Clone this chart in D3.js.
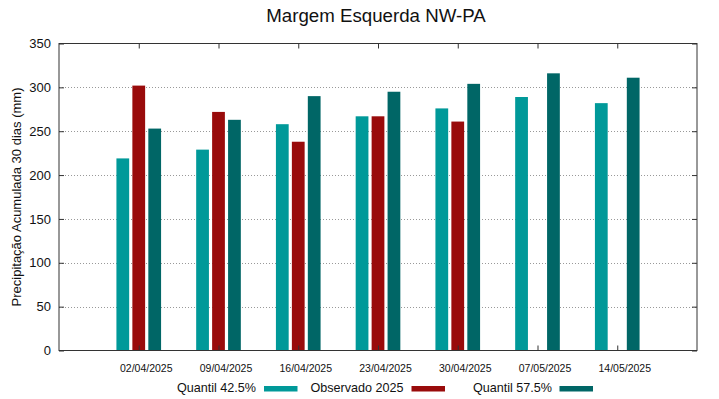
<!DOCTYPE html>
<html>
<head>
<meta charset="utf-8">
<script src="https://cdn.jsdelivr.net/npm/d3@7/dist/d3.min.js"></script>
<style>
  html, body { margin: 0; padding: 0; background: #fff; }
  svg { display: block; font-family: "Liberation Sans", Arial, sans-serif; }
</style>
</head>
<body>
<svg id="chart" width="719" height="399"></svg>
<script>
const title = "Margem Esquerda NW-PA";
const yLabel = "Precipitação Acumulada 30 dias (mm)";
const dates = ["02/04/2025", "09/04/2025", "16/04/2025", "23/04/2025", "30/04/2025", "07/05/2025", "14/05/2025"];
const q425 = [219, 229, 258, 267, 276, 289, 282];
const obs2025 = [302, 272, 238, 267, 261, null, null];
const q575 = [253, 263, 290, 295, 304, 316, 311];
const yTicks = [0, 50, 100, 150, 200, 250, 300, 350];
const seriesNames = ["Quantil 42.5%", "Observado 2025", "Quantil 57.5%"];
const colors = ["#009999", "#990b0b", "#006666"];

const svg = d3.select("#chart");
const m = { left: 59, right: 697, top: 43.5, bottom: 350.5 };
const W = m.right - m.left, H = m.bottom - m.top;

const x = d3.scaleLinear().domain([0, dates.length + 1]).range([m.left, m.right]);
const y = d3.scaleLinear().domain([0, 350]).range([m.bottom, m.top]);

// Grid lines
svg.append("g")
  .attr("transform", `translate(${m.left},0)`)
  .call(d3.axisLeft(y).tickValues(yTicks.filter(v => v > 0 && v < 350)).tickSize(-W).tickFormat(""))
  .call(g => g.select(".domain").remove())
  .call(g => g.selectAll("line").attr("stroke", "#999").attr("stroke-dasharray", "1,2").attr("shape-rendering", "crispEdges"));

// Bars
const series = [q425, obs2025, q575];
const offsets = [-0.2, 0, 0.2];
const bw = 0.16;
const barG = svg.append("g");
series.forEach((vals, si) => {
  barG.selectAll(null)
    .data(vals.map((v, i) => ({ v, i })).filter(d => d.v != null))
    .enter().append("rect")
    .attr("x", d => x(d.i + 1 + offsets[si] - bw / 2))
    .attr("width", d => x(bw) - x(0))
    .attr("y", d => y(d.v))
    .attr("height", d => y(0) - y(d.v))
    .attr("fill", colors[si]);
});

// Border
svg.append("rect")
  .attr("x", m.left).attr("y", m.top).attr("width", W).attr("height", H)
  .attr("fill", "none").attr("stroke", "#333").attr("stroke-width", 1);

// Y axis left
svg.append("g")
  .attr("transform", `translate(${m.left},0)`)
  .call(d3.axisLeft(y).tickValues(yTicks).tickSize(-5).tickPadding(8))
  .call(g => g.select(".domain").remove())
  .call(g => g.selectAll("line").attr("stroke", "#333"))
  .call(g => g.selectAll("text").attr("font-size", 13).attr("fill", "#111").attr("font-family", "Liberation Sans, Arial, sans-serif"));

// Y axis right ticks
svg.append("g")
  .attr("transform", `translate(${m.right},0)`)
  .call(d3.axisRight(y).tickValues(yTicks).tickSize(-5).tickFormat(""))
  .call(g => g.select(".domain").remove())
  .call(g => g.selectAll("line").attr("stroke", "#333"));

const xTickVals = dates.map((d, i) => i + 1);
// X axis bottom
svg.append("g")
  .attr("transform", `translate(0,${m.bottom})`)
  .call(d3.axisBottom(x).tickValues(xTickVals).tickSize(-5).tickPadding(0).tickFormat((d) => dates[d - 1]))
  .call(g => g.select(".domain").remove())
  .call(g => g.selectAll("line").attr("stroke", "#333"))
  .call(g => g.selectAll("text")
    .attr("font-size", 10.5).attr("fill", "#111").attr("font-family", "Liberation Sans, Arial, sans-serif")
    .attr("dy", null).attr("y", 21).attr("dx", 7));

// X axis top ticks
svg.append("g")
  .attr("transform", `translate(0,${m.top})`)
  .call(d3.axisTop(x).tickValues(xTickVals).tickSize(-5).tickFormat(""))
  .call(g => g.select(".domain").remove())
  .call(g => g.selectAll("line").attr("stroke", "#333"));

// Title
svg.append("text")
  .attr("x", 376).attr("y", 22)
  .attr("text-anchor", "middle")
  .attr("font-size", 18.7).attr("fill", "#111")
  .text(title);

// Y label
svg.append("text")
  .attr("transform", `translate(21,${(m.top + m.bottom) / 2}) rotate(-90)`)
  .attr("text-anchor", "middle")
  .attr("font-size", 13).attr("fill", "#111")
  .text(yLabel);

// Legend
const legendItems = [
  { textEnd: 256, sw: 264 },
  { textEnd: 403.5, sw: 411.5 },
  { textEnd: 552, sw: 559.5 }
];
const lg = svg.append("g");
seriesNames.forEach((name, i) => {
  lg.append("text")
    .attr("x", legendItems[i].textEnd).attr("y", 392)
    .attr("text-anchor", "end")
    .attr("font-size", 12.6).attr("fill", "#111")
    .text(name);
  lg.append("rect")
    .attr("x", legendItems[i].sw).attr("y", 386)
    .attr("width", 33.5).attr("height", 5.5)
    .attr("fill", colors[i]);
});
</script>
</body>
</html>
